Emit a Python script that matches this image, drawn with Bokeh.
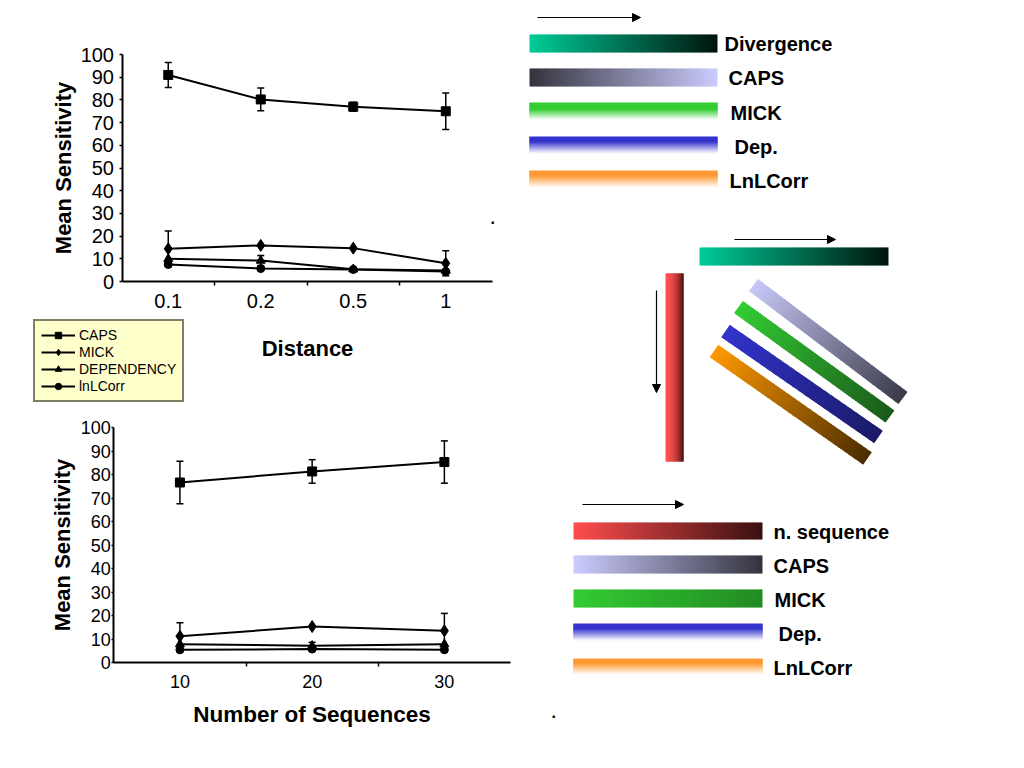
from bokeh.plotting import figure
from bokeh.models import (ColumnDataSource, Whisker, TeeHead, Range1d, FixedTicker,
                          Legend, LegendItem, Arrow, NormalHead, LinearAxis)
from bokeh.core.properties import value
from bokeh.embed import file_html
from bokeh.resources import INLINE

FONT = "Liberation Sans"

# ---------------- data: sensitivity vs distance ----------------
distances = ["0.1", "0.2", "0.5", "1"]
dist_caps = [91.0, 80.2, 77.0, 75.0]
dist_caps_err = [5.5, 5.0, 2.0, 8.0]
dist_mick = [14.4, 15.9, 14.7, 8.0]
dist_mick_err = [7.8, 0.0, 0.0, 5.5]
dist_dep = [10.0, 9.2, 5.4, 4.8]
dist_dep_err = [0.0, 2.2, 0.0, 0.0]
dist_lnl = [7.5, 5.7, 5.3, 4.4]
dist_lnl_err = [0.0, 0.0, 0.0, 0.0]

# ---------------- data: sensitivity vs number of sequences ----------------
nseqs = ["10", "20", "30"]
seq_caps = [76.6, 81.3, 85.3]
seq_caps_err = [9.0, 5.0, 9.0]
seq_mick = [11.2, 15.3, 13.5]
seq_mick_err = [5.7, 0.0, 7.4]
seq_dep = [7.8, 7.1, 7.8]
seq_dep_err = [0.0, 1.5, 0.0]
seq_lnl = [5.4, 5.7, 5.4]
seq_lnl_err = [0.0, 0.0, 0.0]

series_names = ["CAPS", "MICK", "DEPENDENCY", "lnLCorr"]
y_ticks = list(range(0, 101, 10))
Y_MAX = 100

W, H = 1016, 760
p = figure(width=W, height=H, output_backend="svg", toolbar_location=None,
           x_range=Range1d(0, W), y_range=Range1d(H, 0),
           x_axis_location=None, y_axis_location=None, min_border=0)
p.outline_line_color = None
p.grid.grid_line_color = None
p.background_fill_color = "white"
p.border_fill_color = "white"


def add_chart(key, cats, series, box, xlabel, tick_px, ytick_out, ytick_standoff,
              ylab_standoff, xtick_standoff, xlab_standoff, xlab_px):
    left, right, top, bottom = box  # pixel placement of the chart's axes
    n = len(cats)
    step = (right - left) / n
    xs0 = -0.5 - left / step
    p.extra_x_ranges[key + "x"] = Range1d(xs0, xs0 + W / step)
    unit = (bottom - top) / Y_MAX
    p.extra_y_ranges[key + "y"] = Range1d(-(H - bottom) / unit, Y_MAX + top / unit)
    rx, ry = key + "x", key + "y"
    xs = list(range(n))

    xa = LinearAxis(x_range_name=rx, y_range_name=ry, fixed_location=0,
                    bounds=(-0.5, n - 0.5),
                    ticker=FixedTicker(ticks=xs, minor_ticks=[i + 0.5 for i in xs[:-1]]),
                    major_label_overrides={i: c for i, c in zip(xs, cats)})
    xa.major_tick_line_color = None
    xa.major_tick_out = 0
    xa.major_tick_in = 0
    xa.minor_tick_line_color = "black"
    xa.minor_tick_line_width = 1.5
    xa.minor_tick_out = 4
    xa.minor_tick_in = 0
    xa.axis_line_width = 2
    xa.axis_line_color = "black"
    xa.major_label_text_font = FONT
    xa.major_label_text_font_size = tick_px
    xa.major_label_text_color = "black"
    xa.major_label_standoff = xtick_standoff
    xa.axis_label = xlabel
    xa.axis_label_text_font = FONT
    xa.axis_label_text_font_style = "bold"
    xa.axis_label_text_font_size = xlab_px
    xa.axis_label_text_color = "black"
    xa.axis_label_standoff = xlab_standoff
    p.add_layout(xa, "below")

    ya = LinearAxis(x_range_name=rx, y_range_name=ry, fixed_location=-0.5,
                    bounds=(0, Y_MAX), ticker=FixedTicker(ticks=y_ticks, minor_ticks=[]))
    ya.major_tick_out = ytick_out
    ya.major_tick_in = 0
    ya.major_tick_line_width = 1.5
    ya.major_tick_line_color = "black"
    ya.axis_line_width = 2
    ya.axis_line_color = "black"
    ya.major_label_text_font = FONT
    ya.major_label_text_font_size = tick_px
    ya.major_label_text_color = "black"
    ya.major_label_standoff = ytick_standoff
    ya.axis_label = "Mean Sensitivity"
    ya.axis_label_text_font = FONT
    ya.axis_label_text_font_style = "bold"
    ya.axis_label_text_font_size = "22px"
    ya.axis_label_text_color = "black"
    ya.axis_label_standoff = ylab_standoff
    p.add_layout(ya, "left")

    items = []
    for name, vals, errs, marker, size in series:
        src = ColumnDataSource(dict(x=xs, y=vals))
        ln = p.line("x", "y", source=src, line_color="black", line_width=2,
                    x_range_name=rx, y_range_name=ry)
        sc = p.scatter("x", "y", source=src, marker=marker, size=size,
                       fill_color="black", line_color="black",
                       x_range_name=rx, y_range_name=ry)
        bx = [x for x, e in zip(xs, errs) if e > 0]
        up = [v + e for v, e in zip(vals, errs) if e > 0]
        lo = [v - e for v, e in zip(vals, errs) if e > 0]
        if bx:
            wsrc = ColumnDataSource(dict(base=bx, upper=up, lower=lo))
            w = Whisker(source=wsrc, base="base", upper="upper", lower="lower",
                        x_range_name=rx, y_range_name=ry,
                        line_color="black", line_width=1.5,
                        upper_head=TeeHead(size=7, line_width=1.5, line_color="black"),
                        lower_head=TeeHead(size=7, line_width=1.5, line_color="black"))
            p.add_layout(w)
        items.append(LegendItem(label=name, renderers=[ln, sc]))
    return items


# ---------------- decorative gradient diagrams (page pixels) ----------------
def hx(c):
    c = c.lstrip("#")
    return [int(c[i:i + 2], 16) for i in (0, 2, 4)]


def mix(c0, c1, t):
    a, b = hx(c0), hx(c1)
    return "#%02x%02x%02x" % tuple(int(round(a[i] + (b[i] - a[i]) * t)) for i in range(3))


def hgrad(x0, x1, y0, y1, c0, c1, n=90, ease=1.0):
    L, R, T, B, C = [], [], [], [], []
    d = (x1 - x0) / n
    for i in range(n):
        t = (i + 0.5) / n
        L.append(x0 + d * i)
        R.append(min(x1, x0 + d * (i + 1) + 0.8))
        T.append(y0)
        B.append(y1)
        C.append(mix(c0, c1, t ** ease))
    p.quad(left=L, right=R, top=T, bottom=B, fill_color=C, line_color=None)


def vfade(x0, x1, y0, y1, c, hold=0.35, n=40):
    L, R, T, B, C = [], [], [], [], []
    d = (y1 - y0) / n
    for i in range(n):
        t = (i + 0.5) / n
        L.append(x0)
        R.append(x1)
        T.append(y0 + d * i)
        B.append(min(y1, y0 + d * (i + 1) + 0.6))
        f = 0.0 if t < hold else (t - hold) / (1 - hold)
        C.append(mix(c, "#ffffff", min(1.0, f)))
    p.quad(left=L, right=R, top=T, bottom=B, fill_color=C, line_color=None)


def rgrad(ax, ay, bx, by, w, c0, c1, n=80):
    dx, dy = bx - ax, by - ay
    ln = (dx * dx + dy * dy) ** 0.5
    nx, ny = -dy / ln * w / 2, dx / ln * w / 2
    ext = 0.8 / ln
    XS, YS, C = [], [], []
    for i in range(n):
        t0, t1 = i / n, min(1.0, (i + 1) / n + ext)
        px0, py0 = ax + dx * t0, ay + dy * t0
        px1, py1 = ax + dx * t1, ay + dy * t1
        XS.append([px0 + nx, px1 + nx, px1 - nx, px0 - nx])
        YS.append([py0 + ny, py1 + ny, py1 - ny, py0 - ny])
        C.append(mix(c0, c1, (i + 0.5) / n))
    p.patches(xs=XS, ys=YS, fill_color=C, line_color=None)


def arrow(xa, ya, xb, yb):
    p.add_layout(Arrow(end=NormalHead(size=8, fill_color="black", line_color="black"),
                       x_start=xa, y_start=ya, x_end=xb, y_end=yb,
                       line_color="black", line_width=1.2))


def labels(xs, ys, texts, size="20px"):
    p.text(x=xs, y=ys, text=texts, text_font=value(FONT), text_font_style="bold",
           text_font_size=size, text_baseline="middle", text_align="left",
           text_color="black")


# top key
arrow(537, 17, 640, 17)
hgrad(529, 717, 34, 52, "#00cc99", "#00140c")
hgrad(529, 717, 68, 86, "#33333d", "#ccccff")
vfade(529, 717, 102, 119, "#33cc33", hold=0.4)
vfade(529, 717, 136, 153, "#3333cc", hold=0.3)
vfade(529, 717, 170, 187, "#ff9933", hold=0.3)
labels([724, 728, 730, 734, 729], [43, 77, 112, 146, 180],
       ["Divergence", "CAPS", "MICK", "Dep.", "LnLCorr"])

# middle diagram
arrow(734, 239, 835, 239)
hgrad(699, 888, 247, 265, "#00cc99", "#00140c")
hgrad(665, 683, 273, 461, "#ff5050", "#4a1010", n=30, ease=2.0)
arrow(656, 290, 656, 392)
rgrad(753, 284.5, 902.5, 397.5, 15, "#c8c8f8", "#3a3a4a")
rgrad(738, 306.5, 889.5, 416, 15, "#33cc33", "#1a5a1a")
rgrad(725, 330.5, 878, 436.5, 15, "#3333cc", "#1a1a66")
rgrad(713.5, 350.5, 867, 458, 15, "#ff9900", "#4a2c00")

# bottom key
arrow(582, 504, 683, 504)
hgrad(573, 762, 522, 539, "#ff4d4d", "#3a1010")
hgrad(573, 762, 555, 573, "#ccccff", "#33333f")
hgrad(573, 762, 589, 607, "#33cc33", "#228b22")
vfade(573, 762, 623, 640, "#3333cc", hold=0.3)
vfade(573, 762, 658, 674, "#ff9933", hold=0.3)
labels([773, 773, 774, 778, 773], [531, 565, 599, 633, 667],
       ["n. sequence", "CAPS", "MICK", "Dep.", "LnLCorr"])
labels([490, 551], [217, 711], [".", "."], size="16px")

# ---------------- charts ----------------
series1 = [
    (series_names[0], dist_caps, dist_caps_err, "square", 9),
    (series_names[1], dist_mick, dist_mick_err, "diamond", 12),
    (series_names[2], dist_dep, dist_dep_err, "triangle", 9),
    (series_names[3], dist_lnl, dist_lnl_err, "circle", 8),
]
series2 = [
    (series_names[0], seq_caps, seq_caps_err, "square", 9),
    (series_names[1], seq_mick, seq_mick_err, "diamond", 12),
    (series_names[2], seq_dep, seq_dep_err, "triangle", 9),
    (series_names[3], seq_lnl, seq_lnl_err, "circle", 8),
]

items1 = add_chart("c1", distances, series1, (121.5, 491.5, 54, 281), "Distance",
                   "20px", 3, 5, 2, 8, 25, "22px")
add_chart("c2", nseqs, series2, (113.3, 510, 427, 662), "Number of Sequences",
          "18px", 2, 1, 2, 8, 11, "22.5px")

legend = Legend(items=items1, location=(33, H - 323 - 79))
legend.background_fill_color = "#ffffcc"
legend.background_fill_alpha = 1.0
legend.border_line_color = "black"
legend.border_line_width = 2
legend.label_text_font = FONT
legend.label_text_font_size = "14px"
legend.label_text_color = "black"
legend.label_height = 16
legend.glyph_height = 16
legend.glyph_width = 34
legend.label_standoff = 4
legend.spacing = 1
legend.padding = 6
legend.margin = 0
p.add_layout(legend)

open("out.html", "w").write(file_html(p, INLINE))
